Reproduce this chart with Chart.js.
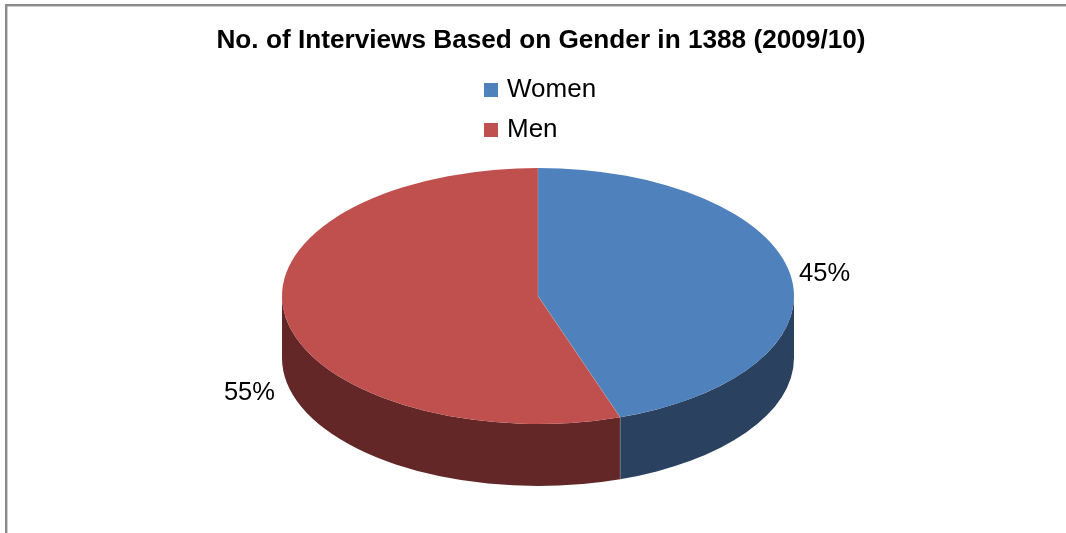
<!DOCTYPE html>
<html>
<head>
<meta charset="utf-8">
<style>html,body{margin:0;padding:0;background:#fff}canvas{display:block}</style>
<script src="https://cdn.jsdelivr.net/npm/chart.js@4"></script>
</head>
<body>
<canvas id="c" width="1066" height="533"></canvas>
<script>
const categories = ['Women', 'Men'];
const shareValues = [44.8, 55.2];
const topColors = ['#4F81BD', '#C0504D'];
const sideColors = ['#2A4160', '#622726'];
const titleText = 'No. of Interviews Based on Gender in 1388 (2009/10)';

const FONT = '"Liberation Sans", Arial, sans-serif';
const PIE = {cx: 538, cy: 296, r: 256, squash: 0.5, depth: 62};
const labelOffsets = [[34, -1], [-36, 76]];
const SEAM = 'rgba(190,190,190,0.4)';

function squash(ctx) {
  ctx.translate(0, PIE.cy);
  ctx.scale(1, PIE.squash);
  ctx.translate(0, -PIE.cy);
}

const pie3d = {
  id: 'pie3d',
  beforeDraw(chart) {
    const ctx = chart.ctx;
    ctx.save();
    ctx.fillStyle = '#fff';
    ctx.fillRect(0, 0, chart.width, chart.height);
    ctx.fillStyle = '#8A8A8A';
    ctx.fillRect(5, 4, chart.width - 5, 2.4);
    ctx.fillRect(5, 4, 2.4, chart.height - 4);
    ctx.restore();
  },
  afterLayout(chart) {
    chart.titleBlock.left = 16;
    chart.titleBlock.right = chart.width;
    const lg = chart.legend;
    lg.left = 474; lg.right = 700; lg.top = 63; lg.bottom = 200;
    lg.width = 226; lg.height = 137;
    const h = PIE.r * 2;
    chart.chartArea = {left: PIE.cx - PIE.r, right: PIE.cx + PIE.r,
      top: PIE.cy - PIE.r, bottom: PIE.cy + PIE.r, width: h, height: h};
  },
  beforeDatasetsDraw(chart) {
    const ctx = chart.ctx;
    const arcs = chart.getDatasetMeta(0).data;
    ctx.save();
    arcs.forEach((a, i) => {
      const a0 = Math.max(a.startAngle, 0);
      const a1 = Math.min(a.endAngle, Math.PI);
      if (a1 <= a0) return;
      const rx = a.outerRadius, ry = a.outerRadius * PIE.squash;
      ctx.beginPath();
      ctx.ellipse(a.x, PIE.cy, rx, ry, 0, a0, a1);
      ctx.ellipse(a.x, PIE.cy + PIE.depth, rx, ry, 0, a1, a0, true);
      ctx.closePath();
      ctx.fillStyle = sideColors[i];
      ctx.fill();
    });
    ctx.restore();
    ctx.save();
    squash(ctx);
  },
  afterDatasetsDraw(chart) {
    const ctx = chart.ctx;
    ctx.restore();
    const arcs = chart.getDatasetMeta(0).data;
    ctx.save();
    ctx.strokeStyle = SEAM;
    ctx.lineWidth = 0.8;
    arcs.forEach(a => {
      const ex = a.x + Math.cos(a.startAngle) * a.outerRadius;
      const ey = PIE.cy + Math.sin(a.startAngle) * a.outerRadius * PIE.squash;
      ctx.beginPath();
      ctx.moveTo(a.x, PIE.cy);
      ctx.lineTo(ex, ey);
      if (Math.sin(a.startAngle) > 0) ctx.lineTo(ex, ey + PIE.depth);
      ctx.stroke();
    });
    ctx.fillStyle = '#000';
    ctx.font = '25.5px ' + FONT;
    ctx.textAlign = 'center';
    ctx.textBaseline = 'middle';
    arcs.forEach((a, i) => {
      const m = (a.startAngle + a.endAngle) / 2;
      const x = a.x + Math.cos(m) * a.outerRadius + labelOffsets[i][0];
      const y = PIE.cy + Math.sin(m) * a.outerRadius * PIE.squash + labelOffsets[i][1];
      ctx.fillText(Math.round(shareValues[i]) + '%', x, y);
    });
    ctx.restore();
  }
};

new Chart(document.getElementById('c'), {
  type: 'pie',
  data: {
    labels: categories,
    datasets: [{data: shareValues, backgroundColor: topColors, borderWidth: 0}]
  },
  options: {
    responsive: false,
    animation: false,
    rotation: 0,
    layout: {padding: 0},
    plugins: {
      tooltip: {enabled: false},
      title: {
        display: true,
        text: titleText,
        color: '#000',
        font: {family: FONT, size: 26.2, weight: 'bold'},
        padding: {top: 25, bottom: 10}
      },
      legend: {
        display: true,
        position: 'chartArea',
        align: 'start',
        labels: {
          color: '#000',
          font: {family: FONT, size: 26},
          usePointStyle: true,
          pointStyle: 'rect',
          boxWidth: 6,
          boxHeight: 14,
          padding: 14
        }
      }
    }
  },
  plugins: [pie3d]
});
</script>
</body>
</html>
